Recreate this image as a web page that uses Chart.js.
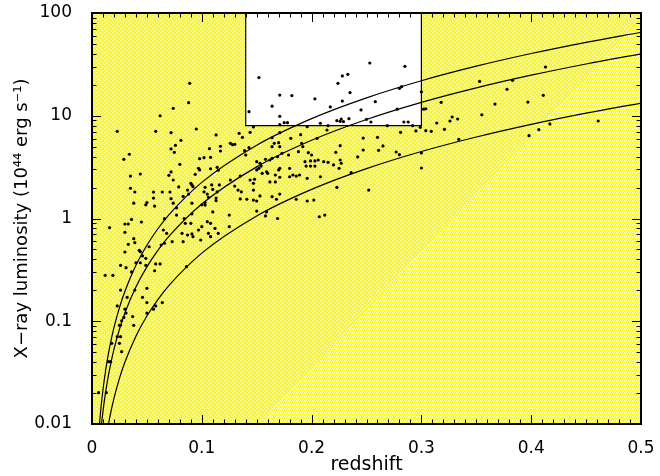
<!DOCTYPE html>
<html>
<head>
<meta charset="utf-8">
<script src="https://cdn.jsdelivr.net/npm/chart.js@4/dist/chart.umd.min.js"></script>
<style>
html,body{margin:0;padding:0;background:#ffffff;}
canvas{display:block;}
</style>
</head>
<body>
<canvas id="c" width="660" height="476"></canvas>
<script>
// ---------- axis ticks ----------
const xTicks = [0, 0.1, 0.2, 0.3, 0.4, 0.5];
const xTickLabels = ['0', '0.1', '0.2', '0.3', '0.4', '0.5'];
const yTicks = [0.01, 0.1, 1, 10, 100];
const yTickLabels = ['0.01', '0.1', '1', '10', '100'];

// ---------- flux-limit curves ----------
const curveZ    = [0.005, 0.0075, 0.01, 0.0125, 0.015, 0.0175, 0.02, 0.025, 0.03, 0.04, 0.05, 0.06, 0.07, 0.1, 0.15, 0.2, 0.25, 0.3, 0.35, 0.4, 0.45, 0.5];
const curveHigh = [0.00538, 0.0121, 0.02156, 0.03373, 0.04863, 0.06627, 0.08666, 0.1357, 0.1959, 0.350, 0.549, 0.795, 1.087, 2.248, 5.169, 9.379, 14.94, 21.92, 30.36, 40.32, 51.86, 65.0];
const curveMid  = [0.00331, 0.00745, 0.01327, 0.02075, 0.02992, 0.04078, 0.05333, 0.0835, 0.1206, 0.2154, 0.3381, 0.4891, 0.6688, 1.384, 3.181, 5.772, 9.195, 13.49, 18.68, 24.81, 31.91, 40.0];
const curveLow  = [0.0011, 0.00248, 0.00441, 0.0069, 0.00995, 0.01356, 0.01774, 0.02778, 0.0401, 0.0716, 0.1124, 0.1627, 0.2224, 0.4602, 1.058, 1.920, 3.058, 4.486, 6.213, 8.252, 10.61, 13.30];

// ---------- clusters: redshift / luminosity, in groups ----------
const zGroupA = [0.089,0.088,0.074,0.062,0.023,0.058,0.072,0.095,0.113,0.081,0.076,0.072,0.075,0.107,0.117,0.117,0.034,0.029,0.098,0.102,0.108,0.080,0.097,0.098,0.108,0.114,0.115,0.035,0.044,0.072,0.070,0.074,0.094,0.035,0.039,0.056,0.064,0.071,0.079,0.087,0.090,0.091,0.092,0.103,0.109,0.116,0.110,0.056,0.072,0.083,0.088,0.102,0.105,0.113,0.106,0.114];
const lGroupA = [20.7,13.4,11.8,10.0,7.06,7.06,6.84,7.43,6.50,5.77,5.16,4.75,4.41,4.78,5.05,4.54,4.22,3.77,3.82,3.91,3.94,3.37,3.08,2.97,3.05,3.15,2.95,2.59,2.71,2.84,2.63,2.37,2.69,1.97,1.81,1.81,1.81,1.81,2.03,1.89,2.20,2.12,2.04,2.01,2.12,2.12,1.92,1.58,1.56,1.64,1.73,1.82,1.73,1.58,1.61,1.82];

const zGroupB = [0.038,0.049,0.050,0.057,0.074,0.091,0.100,0.103,0.113,0.077,0.066,0.036,0.030,0.033,0.045,0.016,0.030,0.038,0.039,0.033,0.030,0.043,0.044,0.052,0.046,0.049,0.040,0.044,0.026,0.031,0.036,0.058,0.062,0.049,0.057,0.012,0.019,0.026,0.039,0.050,0.032,0.046,0.086,0.068,0.073,0.066,0.063,0.065,0.085,0.090,0.082,0.087,0.091,0.092,0.083,0.099,0.097,0.100,0.105,0.108,0.106,0.108,0.112,0.115,0.084,0.091,0.103,0.110,0.077];
const lGroupB = [1.41,1.36,1.43,1.32,1.41,1.41,1.36,1.43,1.49,1.08,0.996,0.98,0.884,0.884,0.925,0.814,0.734,0.636,0.582,0.561,0.472,0.490,0.475,0.531,0.432,0.410,0.371,0.371,0.350,0.332,0.302,0.361,0.361,0.350,0.310,0.280,0.280,0.201,0.201,0.209,0.171,0.171,0.340,0.718,0.595,0.574,0.552,0.773,0.898,0.898,0.718,0.691,0.707,0.665,0.595,0.618,0.773,0.833,0.931,0.898,0.718,0.665,0.803,0.718,1.00,1.11,1.35,1.16,1.27];

const zGroupC = [0.023,0.030,0.031,0.029,0.025,0.026,0.037,0.038,0.027,0.023,0.026,0.018,0.025,0.027,0.015,0.017,0.006,0.013,0.050,0.064,0.056,0.058,0.050];
const lGroupC = [0.141,0.131,0.120,0.109,0.0913,0.0913,0.111,0.0913,0.101,0.0708,0.0708,0.0610,0.0610,0.0506,0.0404,0.0404,0.0202,0.0202,0.152,0.152,0.131,0.141,0.120];

const zGroupD = [0.152,0.143,0.164,0.171,0.182,0.171,0.175,0.178,0.203,0.217,0.224,0.228,0.233,0.235,0.228,0.223,0.227,0.226,0.229,0.234,0.147,0.171,0.196,0.208,0.215,0.214,0.171,0.190,0.181,0.164,0.144,0.134,0.137,0.205];
const lGroupD = [23.5,10.95,12.4,15.9,15.7,9.88,8.56,8.56,14.6,12.2,20.7,24.4,25.3,16.8,13.9,8.95,9.30,8.83,8.75,9.36,7.77,8.18,7.83,8.45,8.00,7.27,6.84,6.54,6.03,6.11,6.90,6.75,6.17,6.03];

const zGroupE = [0.126,0.128,0.130,0.139,0.143,0.164,0.166,0.170,0.171,0.191,0.192,0.226,0.140,0.150,0.153,0.152,0.154,0.158,0.162,0.164,0.169,0.173,0.179,0.188,0.197,0.200,0.194,0.199,0.203,0.206,0.211,0.215,0.222,0.226,0.227,0.220,0.225,0.195,0.199,0.203,0.180,0.170,0.171,0.150,0.155,0.159,0.160,0.126,0.135,0.144,0.148,0.147,0.167,0.171,0.162,0.167,0.180,0.183,0.186,0.189,0.196,0.208,0.130,0.133,0.136,0.147,0.153,0.141,0.147,0.150,0.164,0.168,0.171,0.186,0.196,0.202,0.223,0.135,0.159,0.158,0.150,0.169,0.207,0.212,0.125,0.125];
const lGroupE = [5.39,5.23,5.27,4.57,4.89,5.00,5.39,5.47,5.00,5.39,5.00,5.11,4.15,3.57,3.45,3.08,3.24,3.77,3.71,3.85,4.00,4.31,4.15,4.47,4.37,4.15,3.57,3.63,3.63,3.71,3.57,3.52,4.41,3.71,3.45,3.32,3.08,3.24,3.24,3.24,3.08,2.97,3.08,2.97,2.75,2.85,2.75,2.37,2.59,2.37,2.41,2.20,2.65,2.52,2.27,2.27,2.55,2.65,2.59,2.65,2.46,2.55,2.07,1.89,1.82,1.89,1.66,1.54,1.51,1.48,1.63,1.54,1.73,1.54,1.48,1.51,2.01,1.55,1.16,1.06,1.18,1.00,1.04,1.08,1.08,0.833];

const zGroupF = [0.253,0.285,0.280,0.282,0.300,0.258,0.245,0.278,0.302,0.304,0.318,0.353,0.367,0.355,0.250,0.254,0.284,0.288,0.269,0.292,0.299,0.295,0.304,0.309,0.314,0.321,0.326,0.328,0.333,0.281,0.247,0.260,0.261,0.265,0.247,0.242,0.277,0.280,0.300,0.334,0.300,0.252,0.236];
const lGroupF = [32.6,30.3,18.5,19.2,17.1,13.7,11.4,11.6,11.6,11.7,13.5,21.6,13.0,10.2,9.24,8.69,8.69,8.69,8.00,8.00,7.72,7.11,7.15,7.06,8.50,7.38,8.89,9.72,9.30,6.90,6.07,6.17,4.61,5.08,4.64,3.97,4.44,4.18,4.34,5.90,3.10,1.89,2.79];

const zGroupG = [0.413,0.383,0.378,0.397,0.411,0.417,0.407,0.398,0.461];
const lGroupG = [29.8,22.1,18.1,13.6,15.8,8.32,7.32,6.40,8.89];

// ---------- shaded regions ----------
const boxZ = [0.14, 0.30];     // white (unobserved) window
const boxL = [8, 100];
const paleZ = [0.152, 0.344, 0.5];   // edge of the paler shaded part
const paleL = [0.01, 1.5, 88];

// ---------- build ----------
const zAll = [].concat(zGroupA, zGroupB, zGroupC, zGroupD, zGroupE, zGroupF, zGroupG);
const lAll = [].concat(lGroupA, lGroupB, lGroupC, lGroupD, lGroupE, lGroupF, lGroupG);
const points = zAll.map((z, i) => ({x: z, y: lAll[i]}));
const curve = arr => curveZ.map((z, i) => ({x: z, y: arr[i]}));

function dither(ctx, lightCells) {
  const c = document.createElement('canvas');
  c.width = 4; c.height = 4;
  const g = c.getContext('2d');
  g.fillStyle = '#ffff00';
  g.fillRect(0, 0, 4, 4);
  g.fillStyle = '#ffffd8';
  lightCells.forEach(p => g.fillRect(p[0], p[1], 1, 1));
  return ctx.createPattern(c, 'repeat');
}

const framePlugin = {
  id: 'frame',
  beforeDatasetsDraw(chart) {
    const {ctx, chartArea: a, scales: {x, y}} = chart;
    ctx.save();
    ctx.fillStyle = dither(ctx, [[0,0],[2,2]]);
    ctx.fillRect(a.left, a.top, a.right - a.left, a.bottom - a.top);
    // paler part
    ctx.beginPath();
    ctx.moveTo(x.getPixelForValue(paleZ[0]), y.getPixelForValue(paleL[0]));
    for (let i = 1; i < paleZ.length; i++) ctx.lineTo(x.getPixelForValue(paleZ[i]), y.getPixelForValue(paleL[i]));
    ctx.lineTo(x.getPixelForValue(x.max), y.getPixelForValue(y.min));
    ctx.closePath();
    ctx.fillStyle = dither(ctx, [[0,0],[2,0],[1,2],[3,2],[0,1],[2,3]]);
    ctx.fill();
    // white window
    const bx0 = x.getPixelForValue(boxZ[0]), bx1 = x.getPixelForValue(boxZ[1]);
    const by0 = y.getPixelForValue(boxL[1]), by1 = y.getPixelForValue(boxL[0]);
    ctx.fillStyle = '#ffffff';
    ctx.fillRect(bx0, by0, bx1 - bx0, by1 - by0);
    ctx.restore();
  },
  afterDatasetsDraw(chart) {
    const {ctx, chartArea: a, scales: {x, y}} = chart;
    ctx.save();
    // window outline
    const bx0 = x.getPixelForValue(boxZ[0]), bx1 = x.getPixelForValue(boxZ[1]);
    const by0 = y.getPixelForValue(boxL[1]), by1 = y.getPixelForValue(boxL[0]);
    ctx.strokeStyle = '#000';
    ctx.lineWidth = 1.2;
    ctx.beginPath();
    ctx.moveTo(bx0, by0); ctx.lineTo(bx0, by1); ctx.lineTo(bx1, by1); ctx.lineTo(bx1, by0);
    ctx.stroke();
    // ticks
    ctx.lineWidth = 1;
    ctx.beginPath();
    for (let i = 0; i <= 50; i++) {
      const v = i / 100;
      const px = Math.round(x.getPixelForValue(v)) + 0.5;
      const len = (i % 10 === 0) ? 9 : 4.5;
      ctx.moveTo(px, a.bottom); ctx.lineTo(px, a.bottom - len);
      ctx.moveTo(px, a.top); ctx.lineTo(px, a.top + len);
    }
    for (let e = -2; e <= 2; e++) {
      for (let m = 1; m <= 9; m++) {
        if (e === 2 && m > 1) break;
        const v = m * Math.pow(10, e);
        const py = Math.round(y.getPixelForValue(v)) + 0.5;
        const len = (m === 1) ? 9 : 4.5;
        ctx.moveTo(a.left, py); ctx.lineTo(a.left + len, py);
        ctx.moveTo(a.right, py); ctx.lineTo(a.right - len, py);
      }
    }
    ctx.stroke();
    // frame
    ctx.lineWidth = 2;
    ctx.strokeRect(a.left, a.top, a.right - a.left, a.bottom - a.top);
    ctx.restore();
  }
};

const FONT = "'DejaVu Sans', sans-serif";
const lineStyle = {type: 'line', borderColor: '#000', borderWidth: 1.2, pointRadius: 0, fill: false, cubicInterpolationMode: 'monotone', order: 2};

new Chart(document.getElementById('c').getContext('2d'), {
  type: 'scatter',
  data: {
    datasets: [
      Object.assign({label: 'limit high', data: curve(curveHigh)}, lineStyle),
      Object.assign({label: 'limit mid', data: curve(curveMid)}, lineStyle),
      Object.assign({label: 'limit low', data: curve(curveLow)}, lineStyle),
      {label: 'clusters', data: points, pointRadius: 1.6, pointBackgroundColor: '#000', pointBorderColor: '#000', pointBorderWidth: 0, order: 1}
    ]
  },
  options: {
    responsive: false,
    animation: false,
    devicePixelRatio: 1,
    layout: {padding: {left: 0, top: 13, right: 19, bottom: 0}},
    plugins: {legend: {display: false}, tooltip: {enabled: false}},
    scales: {
      x: {
        type: 'linear', min: 0, max: 0.5,
        afterBuildTicks: s => { s.ticks = xTicks.map(v => ({value: v})); },
        afterFit: s => { s.height = 52; s.paddingLeft = 0; s.paddingRight = 0; },
        grid: {display: false},
        border: {display: false},
        ticks: {color: '#000', font: {family: FONT, size: 17}, padding: 6, maxRotation: 0, autoSkip: false,
                callback: (v, i) => xTickLabels[i]},
        title: {display: true, text: 'redshift', color: '#000', font: {family: FONT, size: 19}, padding: {top: 0, bottom: 0}}
      },
      y: {
        type: 'logarithmic', min: 0.01, max: 100,
        afterBuildTicks: s => { s.ticks = yTicks.map(v => ({value: v})); },
        afterFit: s => { s.width = 92; s.paddingTop = 0; s.paddingBottom = 0; },
        grid: {display: false},
        border: {display: false},
        ticks: {color: '#000', font: {family: FONT, size: 17}, padding: 12, autoSkip: false,
                callback: (v, i) => yTickLabels[i]},
        title: {display: true, text: 'X−ray luminosity (10⁴⁴ erg s⁻¹)', color: '#000', font: {family: FONT, size: 18}, padding: {top: 12, bottom: 0}}
      }
    }
  },
  plugins: [framePlugin]
});
</script>
</body>
</html>
